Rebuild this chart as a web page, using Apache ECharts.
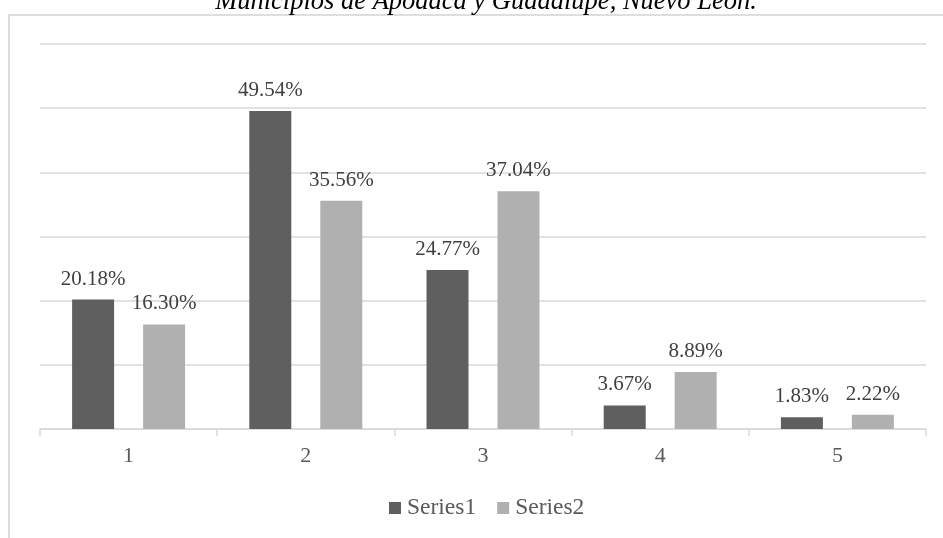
<!DOCTYPE html>
<html>
<head>
<meta charset="utf-8">
<script src="https://cdn.jsdelivr.net/npm/echarts@6/dist/echarts.min.js"></script>
<style>
  html, body { margin: 0; padding: 0; background: #ffffff; }
  #chart { width: 943px; height: 538px; }
</style>
</head>
<body>
<div id="chart"></div>
<script>
// Categories on the x axis
const categories = ['1', '2', '3', '4', '5'];
// Percentages per category for each series
const series1Values = [20.18, 49.54, 24.77, 3.67, 1.83];
const series2Values = [16.30, 35.56, 37.04, 8.89, 2.22];
const seriesNames = ['Series1', 'Series2'];
const titleText = 'Municipios de Apodaca y Guadalupe, Nuevo León.';

const serif = '"Liberation Serif", "Times New Roman", serif';
const chart = echarts.init(document.getElementById('chart'), null, { renderer: 'canvas' });

const labelStyle = {
  show: true,
  position: 'top',
  distance: 10,
  fontFamily: serif,
  fontSize: 21,
  color: '#404040',
  formatter: p => p.value.toFixed(2) + '%'
};

chart.setOption({
  animation: false,
  backgroundColor: '#ffffff',
  graphic: [
    {
      type: 'rect',
      silent: true,
      shape: { x: 9, y: 15, width: 1000, height: 600 },
      style: { fill: 'none', stroke: '#dedede', lineWidth: 2 }
    },
    {
      type: 'text',
      silent: true,
      x: 486,
      y: 2,
      style: {
        text: titleText,
        font: 'italic 26.5px ' + serif,
        fill: '#000000',
        textAlign: 'center',
        textVerticalAlign: 'middle'
      }
    }
  ],
  legend: {
    data: seriesNames,
    bottom: 13,
    left: 384,
    itemWidth: 12,
    itemHeight: 12,
    itemGap: 21,
    icon: 'rect',
    textStyle: { fontFamily: serif, fontSize: 23.5, color: '#595959', padding: [0, 0, 0, 1] }
  },
  grid: { left: 40, right: 17, top: 44, bottom: 109, containLabel: false },
  xAxis: {
    type: 'category',
    data: categories,
    axisLine: { lineStyle: { color: '#d9d9d9', width: 1.5 } },
    axisTick: { show: true, length: 7, lineStyle: { color: '#d9d9d9', width: 1.5 } },
    axisLabel: { fontFamily: serif, fontSize: 22, color: '#595959', margin: 16 }
  },
  yAxis: {
    type: 'value',
    min: 0,
    max: 60,
    interval: 10,
    axisLabel: { show: false },
    axisLine: { show: false },
    axisTick: { show: false },
    splitLine: { lineStyle: { color: '#d9d9d9', width: 1.5 } }
  },
  series: [
    {
      name: seriesNames[0],
      type: 'bar',
      data: series1Values,
      barWidth: 42,
      barGap: '69%',
      itemStyle: { color: '#5f5f5f' },
      label: labelStyle
    },
    {
      name: seriesNames[1],
      type: 'bar',
      data: series2Values,
      barWidth: 42,
      barGap: '69%',
      itemStyle: { color: '#b0b0b0' },
      label: labelStyle
    }
  ]
});
</script>
</body>
</html>
